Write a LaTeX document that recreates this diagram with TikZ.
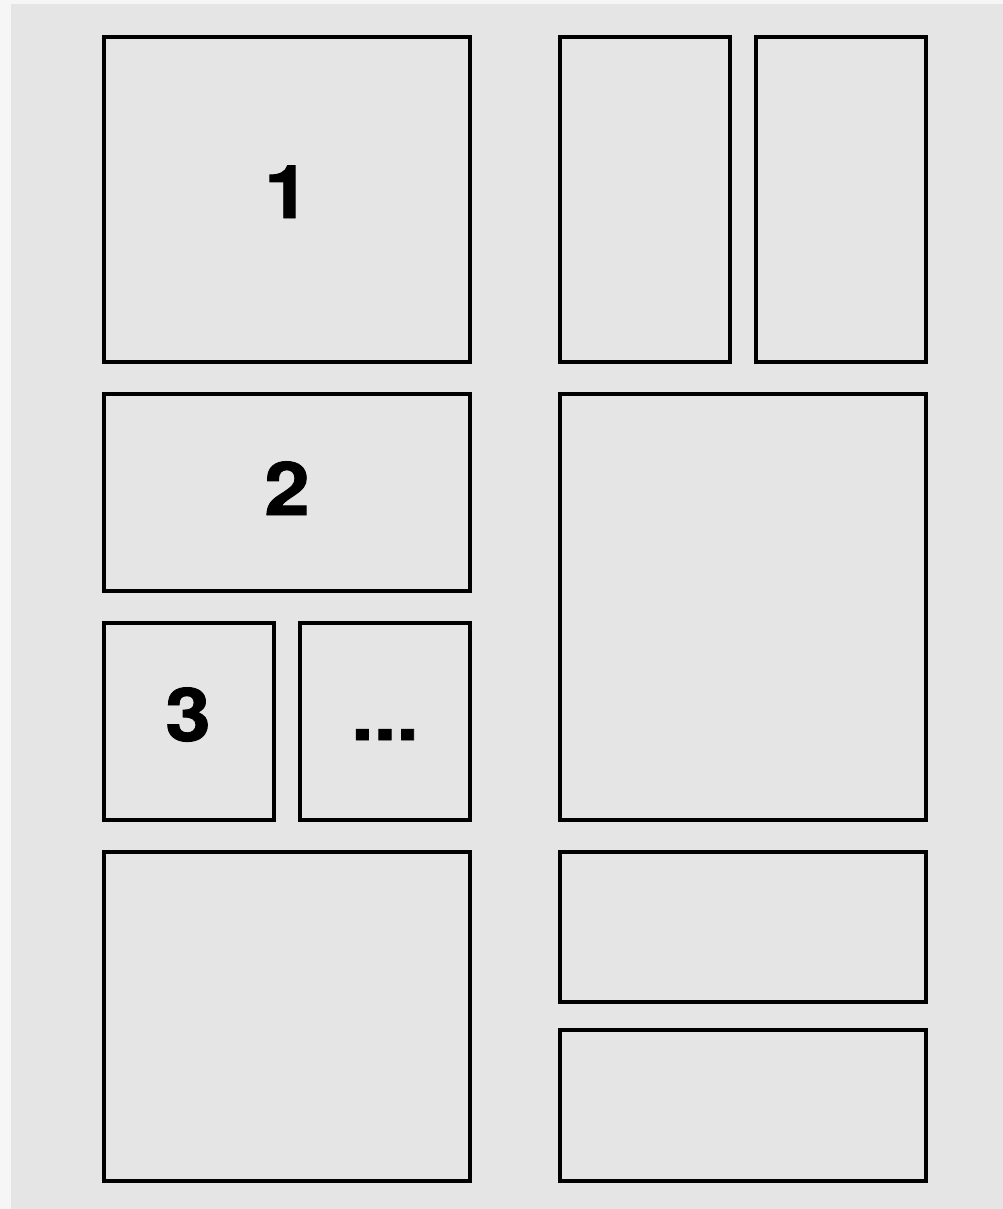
\documentclass[tikz,border=0pt]{standalone}
\usepackage{fontspec}
\setmainfont{TeX Gyre Heros}
\newfontfamily\labfont[BoldFeatures={FakeBold=1.2}]{TeX Gyre Heros}
\definecolor{bgout}{HTML}{F6F6F6}
\definecolor{bggray}{HTML}{E5E5E5}
\begin{document}
\begin{tikzpicture}[x=1pt,y=-1pt,
  panel/.style={draw=black, line width=4.4pt, inner sep=0pt, rectangle},
  lab/.style={font=\labfont\fontsize{74}{74}\selectfont\bfseries, anchor=base, inner sep=0pt, xscale=1.1, transform shape}]
\useasboundingbox (0,0) rectangle (1003,1209);
\fill[bgout] (0,0) rectangle (1003,1209);
\fill[bggray] (11,4) rectangle (1003,1209);
% left column
\node[panel, minimum width=366pt, minimum height=325pt] (p1) at (287,199.5) {};
\node[panel, minimum width=366pt, minimum height=197pt] (p2) at (287,492.5) {};
\node[panel, minimum width=170pt, minimum height=197pt] (p3) at (189,721.5) {};
\node[panel, minimum width=170pt, minimum height=197pt] (p4) at (385,721.5) {};
\node[panel, minimum width=366pt, minimum height=329pt] (p5) at (287,1016.5) {};
% right column
\node[panel, minimum width=170pt, minimum height=325pt] (q1) at (645,199.5) {};
\node[panel, minimum width=170pt, minimum height=325pt] (q2) at (841,199.5) {};
\node[panel, minimum width=366pt, minimum height=426pt] (q3) at (743,607) {};
\node[panel, minimum width=366pt, minimum height=150pt] (q4) at (743,927) {};
\node[panel, minimum width=366pt, minimum height=151pt] (q5) at (743,1105.5) {};
% labels
\node[lab] (t1) at (287,218) {1};
\node[lab] (t2) at (287,515) {2};
\node[lab] (t3) at (188,741) {3};
\node[lab] (t4) at (385,740) {...};
\end{tikzpicture}
\end{document}
